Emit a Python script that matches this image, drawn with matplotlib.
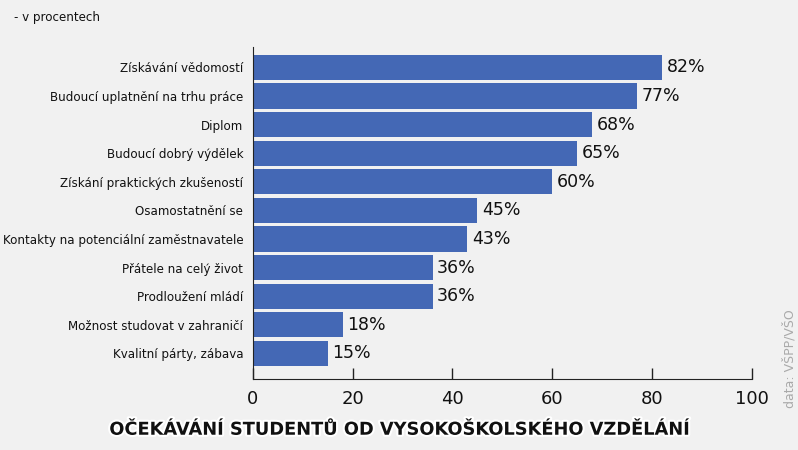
import matplotlib.pyplot as plt
import matplotlib.patheffects as pe

categories = [
    "Získávání vědomostí",
    "Budoucí uplatnění na trhu práce",
    "Diplom",
    "Budoucí dobrý výdělek",
    "Získání praktických zkušeností",
    "Osamostatnění se",
    "Kontakty na potenciální zaměstnavatele",
    "Přátele na celý život",
    "Prodloužení mládí",
    "Možnost studovat v zahraničí",
    "Kvalitní párty, zábava",
]
values = [82, 77, 68, 65, 60, 45, 43, 36, 36, 18, 15]
xticks = [0, 20, 40, 60, 80, 100]

fig = plt.figure(figsize=(7.98, 4.5), dpi=100, facecolor="#f1f1f1")
ax = fig.add_axes([0.317, 0.158, 0.625, 0.738])
ax.set_facecolor("none")

pos = list(range(len(categories)))
ax.barh(pos, values, height=0.88, color="#4468b5")
for p, v in zip(pos, values):
    ax.text(v + 0.9, p, f"{v}%", va="center", ha="left", fontsize=12.5,
            fontweight="medium", color="#111111")

ax.set_xlim(0, 100)
ax.set_ylim(10.89, -0.72)
ax.set_yticks(pos)
ax.set_yticklabels(categories, fontsize=8.6, color="#111111")
ax.tick_params(axis="y", length=0, pad=7)
ax.set_xticks(xticks)
ax.set_xticklabels([str(t) for t in xticks], fontsize=13, color="#111111")
ax.tick_params(axis="x", direction="in", length=8, width=1, color="#222222", pad=8)
for s in ["top", "right"]:
    ax.spines[s].set_visible(False)
ax.spines["left"].set_color("#222222")
ax.spines["bottom"].set_color("#222222")

fig.text(0.018, 0.962, "- v procentech", fontsize=8.6, color="#111111", va="center")
fig.text(0.99, 0.093, "data: VŠPP/VŠO", rotation=90, fontsize=9, color="#aaaaaa",
         ha="center", va="bottom")
t = fig.text(0.5, 0.045, "OČEKÁVÁNÍ STUDENTŮ OD VYSOKOŠKOLSKÉHO VZDĚLÁNÍ", fontsize=12.8,
             fontweight="heavy", ha="center", va="center", color="#111111")
t.set_path_effects([pe.withStroke(linewidth=3, foreground="white")])

fig.savefig("out.png", dpi=100, facecolor=fig.get_facecolor())
